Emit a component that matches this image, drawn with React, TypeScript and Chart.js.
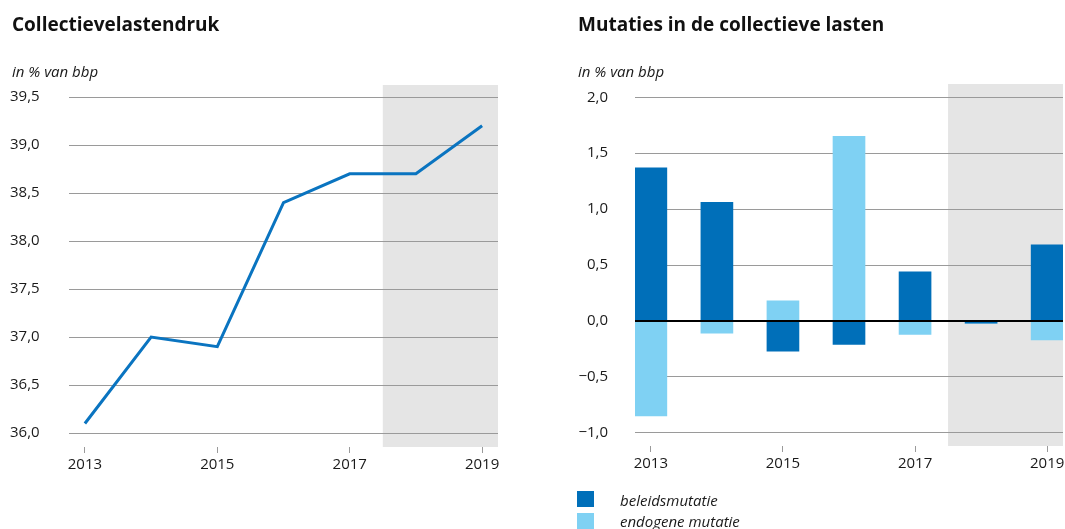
import React, { useEffect, useRef } from 'react';
import { Chart, registerables } from 'chart.js';

Chart.register(...registerables);

// ---- data ----
const years = [2013, 2014, 2015, 2016, 2017, 2018, 2019];
const lastendruk = [36.1, 37.0, 36.9, 38.4, 38.7, 38.7, 39.2];
const beleidsmutatie = [1.37, 1.06, -0.27, -0.21, 0.44, -0.02, 0.68];
const endogeneMutatie = [-0.85, -0.11, 0.18, 1.65, -0.12, 0, -0.17];
const xTickYears = [2013, 2015, 2017, 2019];
const leftYTicks = [36.0, 36.5, 37.0, 37.5, 38.0, 38.5, 39.0, 39.5];
const rightYTicks = [-1.0, -0.5, 0.0, 0.5, 1.0, 1.5, 2.0];
const projectionStart = 2017.5;

const FONT = "'Open Sans', 'Noto Sans', sans-serif";
const TEXT = '#1a1a1a';
const GRID = '#9a9a9a';
const SHADE = '#e5e5e5';
const LINE_BLUE = '#0a74c0';
const DARK_BLUE = '#006fb9';
const LIGHT_BLUE = '#7fd1f3';

const fmt = (v: number) => {
  const s = Math.abs(v).toFixed(1).replace('.', ',');
  return v < -1e-9 ? '\u2212' + s : s;
};

const shadePlugin = {
  id: 'shade',
  beforeDraw(chart: any) {
    const { ctx, chartArea, scales } = chart;
    const x0 = scales.x.getPixelForValue(projectionStart);
    ctx.save();
    ctx.fillStyle = SHADE;
    ctx.fillRect(x0, chartArea.top, chartArea.right - x0, chartArea.bottom - chartArea.top);
    ctx.restore();
  },
};

const zeroLinePlugin = {
  id: 'zeroLine',
  afterDatasetsDraw(chart: any) {
    const { ctx, chartArea, scales } = chart;
    const y = scales.y.getPixelForValue(0);
    ctx.save();
    ctx.strokeStyle = '#000';
    ctx.lineWidth = 2;
    ctx.beginPath();
    ctx.moveTo(chartArea.left, y);
    ctx.lineTo(chartArea.right, y);
    ctx.stroke();
    ctx.restore();
  },
};

const xScale = (heightPx: number) => ({
  type: 'linear' as const,
  min: 2012.76,
  max: 2019.24,
  stacked: true,
  offset: false,
  afterBuildTicks: (s: any) => {
    s.ticks = xTickYears.map((v) => ({ value: v }));
  },
  afterFit: (s: any) => {
    s.height = heightPx;
    s.paddingLeft = 0;
    s.paddingRight = 0;
  },
  border: { display: false },
  grid: { offset: false, drawOnChartArea: false, drawTicks: true, tickLength: 6, color: GRID },
  ticks: {
    autoSkip: false,
    maxRotation: 0,
    padding: 3,
    color: TEXT,
    font: { family: FONT, size: 15 },
    callback: (v: any) => String(v),
  },
});

function LeftChart() {
  const ref = useRef<HTMLCanvasElement>(null);
  useEffect(() => {
    const chart = new Chart(ref.current!, {
      type: 'line',
      data: {
        datasets: [
          {
            label: 'Collectievelastendruk',
            data: years.map((y, i) => ({ x: y, y: lastendruk[i] })),
            borderColor: LINE_BLUE,
            borderWidth: 3,
            pointRadius: 0,
            tension: 0,
            fill: false,
          },
        ],
      },
      options: {
        responsive: false,
        animation: false,
        layout: { padding: { left: 10, right: 34, top: 85, bottom: 0 } },
        plugins: { legend: { display: false }, tooltip: { enabled: false } },
        scales: {
          x: xScale(82),
          y: {
            min: 35.855,
            max: 39.625,
            afterBuildTicks: (s: any) => {
              s.ticks = leftYTicks.map((v) => ({ value: v }));
            },
            afterFit: (s: any) => {
              s.width = 59;
            },
            border: { display: false },
            grid: { color: GRID, drawTicks: false },
            ticks: {
              crossAlign: 'far',
              padding: 0,
              color: TEXT,
              font: { family: FONT, size: 15 },
              callback: (v: any) => fmt(Number(v)),
            },
          },
        },
      } as any,
      plugins: [shadePlugin],
    });
    return () => chart.destroy();
  }, []);
  return (
    <canvas
      ref={ref}
      width={532}
      height={529}
      style={{ position: 'absolute', left: 0, top: 0, width: 532, height: 529 }}
    />
  );
}

function RightChart() {
  const ref = useRef<HTMLCanvasElement>(null);
  useEffect(() => {
    const chart = new Chart(ref.current!, {
      type: 'bar',
      data: {
        datasets: [
          {
            label: 'beleidsmutatie',
            data: years.map((y, i) => ({ x: y, y: beleidsmutatie[i] })),
            backgroundColor: DARK_BLUE,
            borderWidth: 0,
            barThickness: 32,
          },
          {
            label: 'endogene mutatie',
            data: years.map((y, i) => ({ x: y, y: endogeneMutatie[i] })),
            backgroundColor: LIGHT_BLUE,
            borderWidth: 0,
            barThickness: 32,
          },
        ],
      },
      options: {
        responsive: false,
        animation: false,
        layout: { padding: { left: 0, right: 2, top: 84, bottom: 0 } },
        plugins: { legend: { display: false }, tooltip: { enabled: false } },
        scales: {
          x: xScale(83),
          y: {
            min: -1.119,
            max: 2.119,
            stacked: true,
            afterBuildTicks: (s: any) => {
              s.ticks = rightYTicks.map((v) => ({ value: v }));
            },
            afterFit: (s: any) => {
              s.width = 103;
            },
            border: { display: false },
            grid: { color: GRID, drawTicks: false },
            ticks: {
              padding: 27,
              color: TEXT,
              font: { family: FONT, size: 15 },
              callback: (v: any) => fmt(Number(v)),
            },
          },
        },
      } as any,
      plugins: [shadePlugin, zeroLinePlugin],
    });
    return () => chart.destroy();
  }, []);
  return (
    <canvas
      ref={ref}
      width={533}
      height={529}
      style={{ position: 'absolute', left: 532, top: 0, width: 533, height: 529 }}
    />
  );
}

const titleStyle: React.CSSProperties = {
  position: 'absolute',
  fontFamily: FONT,
  fontWeight: 700,
  fontSize: 19,
  lineHeight: '24px',
  color: '#111',
  whiteSpace: 'nowrap',
  top: 12,
};
const subStyle: React.CSSProperties = {
  position: 'absolute',
  fontFamily: FONT,
  fontStyle: 'italic',
  fontSize: 15,
  lineHeight: '20px',
  color: TEXT,
  whiteSpace: 'nowrap',
  top: 61,
};

export default function App() {
  return (
    <div
      style={{
        position: 'absolute',
        left: 0,
        top: 0,
        width: 1065,
        height: 529,
        background: '#fff',
        overflow: 'hidden',
      }}
    >
      <LeftChart />
      <RightChart />
      <div style={{ ...titleStyle, left: 12 }}>Collectievelastendruk</div>
      <div style={{ ...subStyle, left: 12 }}>in % van bbp</div>
      <div style={{ ...titleStyle, left: 578 }}>Mutaties in de collectieve lasten</div>
      <div style={{ ...subStyle, left: 578 }}>in % van bbp</div>
      <div style={{ position: 'absolute', left: 577, top: 491, width: 17, height: 16, background: DARK_BLUE }} />
      <div style={{ ...subStyle, left: 620, top: 490 }}>beleidsmutatie</div>
      <div style={{ position: 'absolute', left: 577, top: 513, width: 17, height: 16, background: LIGHT_BLUE }} />
      <div style={{ ...subStyle, left: 620, top: 511 }}>endogene mutatie</div>
    </div>
  );
}
